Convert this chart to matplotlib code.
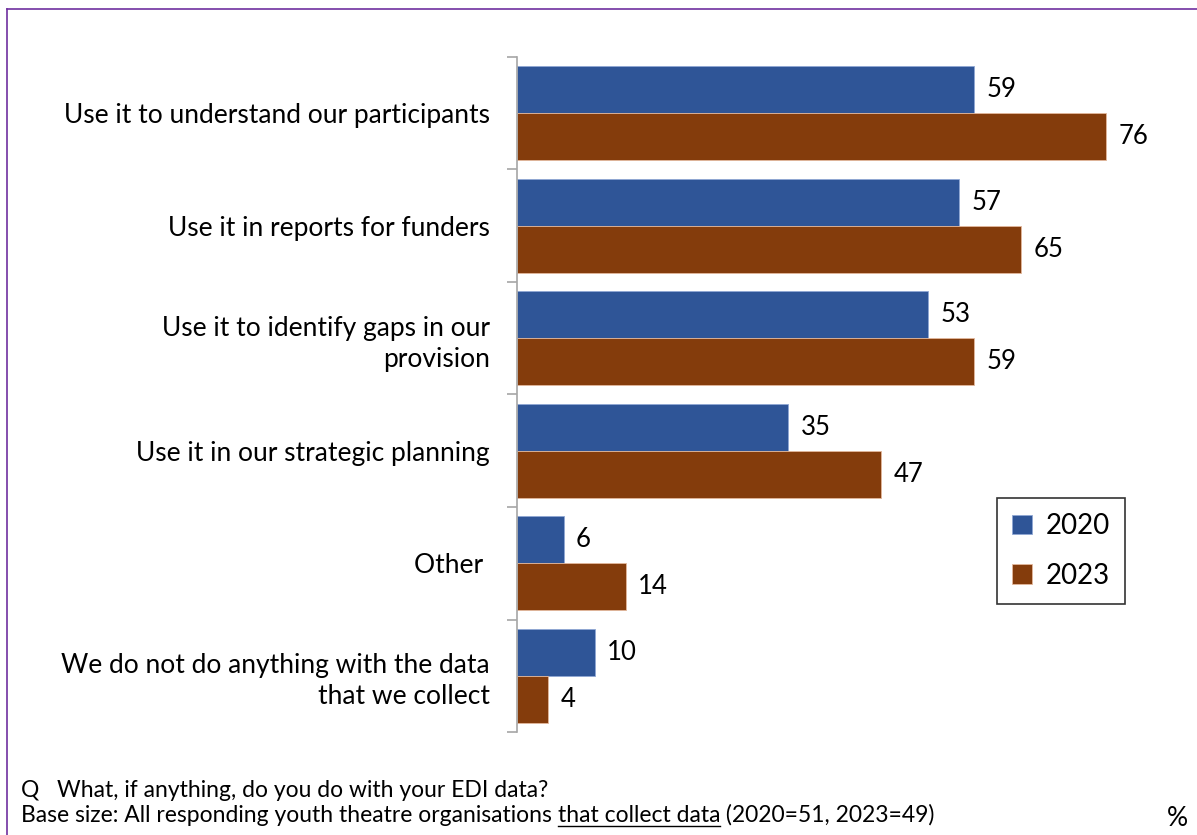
import matplotlib
matplotlib.use("Agg")
import matplotlib.pyplot as plt
from matplotlib.lines import Line2D

plt.rcParams['font.family'] = ['Lato', 'DejaVu Sans']

categories = [
    "Use it to understand our participants",
    "Use it in reports for funders",
    "Use it to identify gaps in our\nprovision",
    "Use it in our strategic planning",
    "Other ",
    "We do not do anything with the data\nthat we collect",
]
vals_2020 = [59, 57, 53, 35, 6, 10]
vals_2023 = [76, 65, 59, 47, 14, 4]
series_names = ["2020", "2023"]
colors = ["#2f5597", "#843c0c"]

fig = plt.figure(figsize=(11.97, 8.35), dpi=100)
W, H = 1197, 835

# axes placed in pixel terms: left 517, top 57, bottom 732
ax = fig.add_axes([517 / W, 1 - 732 / H, (W - 517) / W, (732 - 57) / H])

n = len(categories)
bar_h = 0.418
ys = list(range(n))
b1 = ax.barh([y - bar_h / 2 for y in ys], vals_2020, height=bar_h,
             color=colors[0], edgecolor="#8fa7d4", linewidth=0.6, label=series_names[0])
b2 = ax.barh([y + bar_h / 2 for y in ys], vals_2023, height=bar_h,
             color=colors[1], edgecolor="#e3b89c", linewidth=0.6, label=series_names[1])

for bars, vals in ((b1, vals_2020), (b2, vals_2023)):
    for rect, v in zip(bars, vals):
        ax.text(v + 1.6, rect.get_y() + rect.get_height() / 2, str(v),
                va="center", ha="left", fontsize=18.5, color="black")

ax.set_xlim(0, (W - 517) / 7.75)
ax.set_ylim(n - 0.5, -0.5)

for s in ("top", "right", "bottom"):
    ax.spines[s].set_visible(False)
ax.spines["left"].set_color("#a6a6a6")
ax.spines["left"].set_linewidth(1.2)
ax.set_xticks([])

# category boundaries get the tick marks, labels sit between them
ax.set_yticks([y - 0.5 for y in range(n + 1)])
ax.set_yticklabels([])
ax.tick_params(axis="y", length=7, width=1.2, color="#a6a6a6")
ax.set_yticks(ys, minor=True)
ax.set_yticklabels(categories, minor=True, fontsize=19, ha="right",
                   multialignment="right", linespacing=1.3)
ax.tick_params(axis="y", which="minor", length=0, pad=19.5)

leg = ax.legend(handles=[b1, b2], labels=series_names, loc="upper left",
                bbox_to_anchor=((997 - 517) / (W - 517), 1 - (498 - 57) / (732 - 57)),
                fontsize=20, frameon=True, fancybox=False, edgecolor="black",
                handlelength=0.7, handleheight=0.7, handletextpad=0.5,
                borderpad=0.55, labelspacing=0.85, borderaxespad=0)
leg.get_frame().set_linewidth(1.2)

# purple frame around the chart area
fig.add_artist(Line2D([7 / W, 7 / W], [0, 1 - 9 / H], color="#7030a0", linewidth=1.2))
fig.add_artist(Line2D([7 / W, 1], [1 - 9 / H, 1 - 9 / H], color="#7030a0", linewidth=1.2))

# footnotes
fs = 16.5
fig.text(21 / W, 1 - 797 / H, "Q   What, if anything, do you do with your EDI data?",
         fontsize=fs, va="baseline", ha="left")
fig.text(1177 / W, 1 - 826 / H, "%", fontsize=19, va="baseline", ha="center")

parts = ["Base size: All responding youth theatre organisations ",
         "that collect data", " (2020=51, 2023=49)"]
fig.canvas.draw()
renderer = fig.canvas.get_renderer()
x = 21
for i, p in enumerate(parts):
    t = fig.text(x / W, 1 - 822 / H, p, fontsize=fs, va="baseline", ha="left")
    bb = t.get_window_extent(renderer)
    if i == 1:
        yline = 1 - 826 / H
        fig.add_artist(Line2D([bb.x0 / W, bb.x1 / W], [yline, yline],
                              color="black", linewidth=1))
    x = bb.x1

fig.savefig("out.png", dpi=100)
